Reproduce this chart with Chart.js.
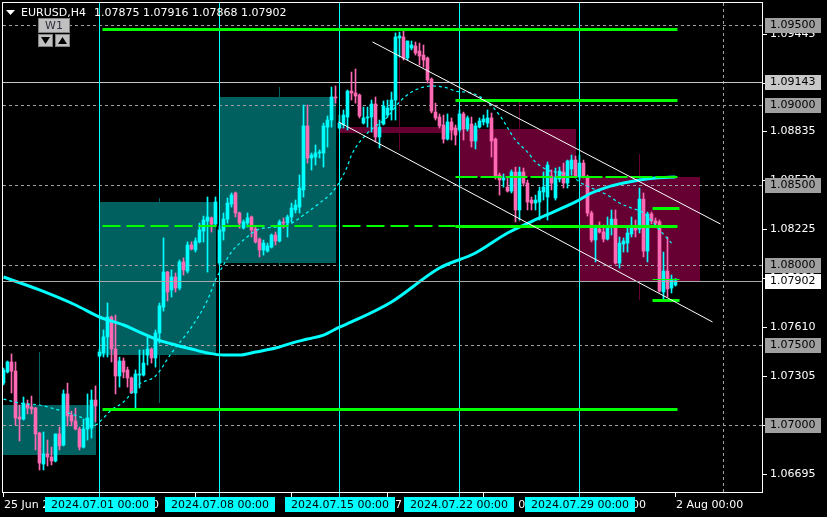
<!DOCTYPE html>
<html><head><meta charset="utf-8">
<script src="https://cdn.jsdelivr.net/npm/chart.js@4.4.1/dist/chart.umd.min.js"></script>
<style>html,body{margin:0;padding:0;background:#000;overflow:hidden}canvas{display:block}</style>
</head><body>
<canvas id="c" width="827" height="517"></canvas>
<script>
// ---- candle data (EURUSD H4), bar index 0 = 25 Jun 00:00 ----
const opens = [1.07262,1.07331,1.07394,1.07337,1.07050,1.07037,1.07131,1.07112,1.07106,1.06950,1.06756,1.06819,1.06800,1.06775,1.06944,1.06875,1.07194,1.07062,1.07025,1.06975,1.06862,1.06975,1.06981,1.07156,
1.07431,1.07450,1.07550,1.07675,1.07475,1.07306,1.07400,1.07344,1.07294,1.07200,1.07312,1.07312,1.07437,1.07475,1.07419,1.07575,1.07737,1.07956,1.07844,1.07925,1.07856,1.08019,1.07962,1.08125,1.08094,1.08144,1.08212,1.08275,1.08294,1.08256,
1.08012,1.08212,1.08287,1.08381,1.08450,1.08325,1.08231,1.08262,1.08300,1.08225,1.08162,1.08094,1.08087,1.08112,1.08187,1.08150,1.08269,1.08262,1.08300,1.08344,1.08362,1.08469,1.08869,1.08669,1.08675,1.08700,1.08700,1.08862,1.08906,1.09050,
1.08856,1.08875,1.08925,1.09087,1.09075,1.09062,1.08887,1.08919,1.08925,1.09006,1.08800,1.08881,1.08937,1.08969,1.09031,1.09419,1.09425,1.09294,1.09356,1.09369,1.09337,1.09312,1.09294,1.09162,1.08956,1.08925,1.08875,1.08787,1.08894,1.08856,
1.08844,1.08944,1.08850,1.08881,1.08775,1.08862,1.08894,1.08887,1.08919,1.08787,1.08562,1.08531,1.08487,1.08462,1.08581,1.08344,1.08581,1.08512,1.08406,1.08387,1.08394,1.08456,1.08425,1.08556,1.08419,1.08537,1.08581,1.08512,1.08600,1.08656,
1.08550,1.08637,1.08550,1.08325,1.08156,1.08225,1.08206,1.08162,1.08244,1.08287,1.08012,1.08131,1.08137,1.08194,1.08244,1.08225,1.08412,1.08087,1.08319,1.08275,1.08269,1.07831,1.07962,1.07856,1.07875];
const highs = [1.07356,1.07400,1.07444,1.07394,1.07125,1.07175,1.07156,1.07181,1.07110,1.06955,1.06956,1.06906,1.06862,1.06944,1.06987,1.07219,1.07262,1.07087,1.07106,1.06987,1.07037,1.07194,1.07219,1.07244,
1.07475,1.07594,1.07762,1.07681,1.07687,1.07425,1.07419,1.07362,1.07300,1.07344,1.07469,1.07469,1.07550,1.07481,1.07594,1.07762,1.08169,1.07960,1.07969,1.07950,1.08031,1.08044,1.08144,1.08144,1.08169,1.08262,1.08306,1.08425,1.08300,1.08425,
1.08244,1.08325,1.08419,1.08450,1.08456,1.08331,1.08281,1.08325,1.08306,1.08237,1.08169,1.08156,1.08137,1.08194,1.08206,1.08281,1.08294,1.08312,1.08387,1.08406,1.08562,1.09000,1.09000,1.08700,1.08750,1.08719,1.08887,1.08931,1.09112,1.09119,
1.08937,1.08969,1.09094,1.09206,1.09225,1.09069,1.08987,1.08987,1.09031,1.09050,1.08906,1.09025,1.09031,1.09081,1.09450,1.09456,1.09469,1.09400,1.09400,1.09394,1.09387,1.09375,1.09300,1.09169,1.09012,1.08944,1.08937,1.08944,1.08919,1.08875,
1.08969,1.08956,1.08931,1.08925,1.08887,1.08919,1.08937,1.08969,1.08950,1.08794,1.08575,1.08569,1.08544,1.08594,1.08612,1.08612,1.08606,1.08531,1.08425,1.08437,1.08487,1.08581,1.08644,1.08594,1.08606,1.08612,1.08637,1.08656,1.08687,1.08681,
1.08687,1.08656,1.08562,1.08337,1.08250,1.08269,1.08250,1.08300,1.08344,1.08344,1.08175,1.08169,1.08231,1.08300,1.08281,1.08481,1.08450,1.08331,1.08331,1.08294,1.08281,1.08081,1.08175,1.07937,1.07916];
const lows = [1.07250,1.07325,1.07200,1.07000,1.06900,1.07031,1.07069,1.07069,1.06844,1.06719,1.06719,1.06744,1.06750,1.06769,1.06844,1.06869,1.06994,1.06994,1.06969,1.06844,1.06856,1.06906,1.06919,1.07019,
1.07425,1.07425,1.07425,1.07394,1.07194,1.07237,1.07294,1.07237,1.07200,1.07106,1.07231,1.07306,1.07375,1.07387,1.07362,1.07512,1.07712,1.07775,1.07800,1.07831,1.07844,1.07937,1.07950,1.08094,1.08081,1.08137,1.08144,1.07956,1.08206,1.08244,
1.08000,1.08156,1.08262,1.08362,1.08300,1.08231,1.08225,1.08237,1.08175,1.08137,1.08050,1.08062,1.08081,1.08106,1.08125,1.08144,1.08231,1.08175,1.08269,1.08325,1.08325,1.08425,1.08637,1.08594,1.08625,1.08669,1.08612,1.08737,1.08862,1.09012,
1.08850,1.08856,1.08844,1.09031,1.09012,1.08919,1.08881,1.08862,1.08831,1.08769,1.08731,1.08875,1.08925,1.08906,1.08906,1.09300,1.09281,1.09281,1.09344,1.09312,1.09250,1.09237,1.09137,1.08950,1.08906,1.08856,1.08762,1.08781,1.08781,1.08750,
1.08831,1.08781,1.08837,1.08737,1.08725,1.08856,1.08875,1.08862,1.08675,1.08537,1.08437,1.08487,1.08456,1.08450,1.08269,1.08281,1.08494,1.08344,1.08344,1.08344,1.08281,1.08406,1.08281,1.08469,1.08406,1.08519,1.08481,1.08481,1.08562,1.08544,
1.08531,1.08544,1.08306,1.08144,1.08019,1.08200,1.08144,1.08156,1.08187,1.08006,1.07981,1.08081,1.08081,1.08175,1.08175,1.08200,1.08050,1.08019,1.08256,1.08244,1.07831,1.07787,1.07800,1.07825,1.07868];
const closes = [1.07344,1.07394,1.07337,1.07044,1.07037,1.07137,1.07106,1.07100,1.06944,1.06762,1.06819,1.06800,1.06775,1.06944,1.06869,1.07194,1.07056,1.07025,1.06975,1.06862,1.06975,1.07044,1.07156,1.07119,
1.07456,1.07550,1.07675,1.07475,1.07306,1.07400,1.07331,1.07294,1.07200,1.07319,1.07319,1.07387,1.07475,1.07419,1.07575,1.07744,1.07956,1.07831,1.07925,1.07856,1.08019,1.07969,1.08125,1.08100,1.08150,1.08219,1.08281,1.08300,1.08256,1.08394,
1.08219,1.08287,1.08387,1.08437,1.08325,1.08262,1.08269,1.08294,1.08219,1.08144,1.08094,1.08137,1.08119,1.08187,1.08150,1.08269,1.08262,1.08300,1.08356,1.08375,1.08481,1.08869,1.08669,1.08687,1.08700,1.08706,1.08869,1.08906,1.09050,1.09044,
1.08887,1.08937,1.09087,1.09075,1.09056,1.08931,1.08919,1.08925,1.09006,1.08800,1.08862,1.08994,1.08981,1.09031,1.09425,1.09431,1.09294,1.09400,1.09375,1.09325,1.09306,1.09281,1.09156,1.08962,1.08919,1.08869,1.08787,1.08894,1.08844,1.08812,
1.08944,1.08850,1.08919,1.08775,1.08869,1.08900,1.08912,1.08919,1.08775,1.08550,1.08531,1.08544,1.08462,1.08581,1.08344,1.08581,1.08512,1.08394,1.08387,1.08406,1.08462,1.08487,1.08625,1.08512,1.08550,1.08587,1.08512,1.08650,1.08656,1.08550,
1.08637,1.08550,1.08325,1.08156,1.08231,1.08206,1.08162,1.08244,1.08287,1.08012,1.08137,1.08150,1.08200,1.08244,1.08219,1.08412,1.08087,1.08319,1.08275,1.08262,1.07837,1.07962,1.07850,1.07912,1.07902];

// ---- moving averages ----
const maSlowIdx = [0,9,18,24,30,34,38,43,47,51,55,59,63,68,72,76,80,84,87,97,109,118,126,134,143,147,151,155,159,163,168];
const maSlowVal = [1.07925,1.07844,1.07750,1.07675,1.07625,1.07581,1.07537,1.07500,1.07475,1.07450,1.07437,1.07437,1.07456,1.07481,1.07512,1.07537,1.07562,1.07612,1.07644,1.07769,1.07981,1.08075,1.08200,1.08294,1.08394,1.08450,1.08487,1.08512,1.08531,1.08544,1.08550];
const maFastIdx = [0,4,9,12,17,21,23,24,27,30,34,38,42,47,51,53,55,57,60,64,68,72,75,79,82,84,86,87,91,96,99,102,105,107,111,113,117,121,124,128,131,133,136,138,142,144,147,151,154,157,160,164,167];
const maFastVal = [1.07162,1.07137,1.07125,1.07106,1.07069,1.07031,1.07000,1.07019,1.07094,1.07144,1.07256,1.07306,1.07450,1.07612,1.07781,1.07906,1.08000,1.08081,1.08156,1.08225,1.08237,1.08262,1.08312,1.08387,1.08450,1.08519,1.08619,1.08687,1.08825,1.08925,1.09019,1.09081,1.09112,1.09119,1.09106,1.09087,1.09075,1.09019,1.08937,1.08781,1.08706,1.08644,1.08594,1.08581,1.08556,1.08519,1.08481,1.08437,1.08387,1.08356,1.08325,1.08219,1.08137];

// ---- weekly candles (W1 overlay) ----
const weekFirst = [-6,24,54,84,114,144];
const weekLast  = [23,53,83,113,143,174];
const weekMid   = [9,39,69,99,129,159];
const weekOpen  = [1.06812,1.07437,1.08012,1.08862,1.08850,1.08550];
const weekClose = [1.07125,1.08394,1.09050,1.08825,1.08550,1.07900];
const weekHigh  = [1.07456,1.08419,1.09112,1.09450,1.09025,1.08694];
const weekLow   = [1.06731,1.07137,1.08000,1.08719,1.08269,1.07781];

// ---- drawn objects ----
const levelPrices = [1.09500,1.09000,1.08500,1.08000,1.07500,1.07000];
const levelLabels = ["1.09500","1.09000","1.08500","1.08000","1.07500","1.07000"];
const markPrice = 1.09143, markLabel = "1.09143";
const bidPrice = 1.07902, bidLabel = "1.07902";
const greenPrices = [1.09478,1.09031,1.08550,1.08244,1.08244,1.07100,1.08356,1.07781,1.07912];
const greenFrom   = [24.75,113,113,24.75,113,24.75,162.25,162.25,162.25];
const greenTo     = [168.5,168.5,168.5,113,168.5,168.5,169,169,169];
const channelFrom = [[92.25,1.09394],[83.75,1.08894]];
const channelTo   = [[179.25,1.08256],[177.25,1.07644]];
const vDashIdx = 180;

// ---- axis texts ----
const yTickValues = [1.09445,1.09140,1.08835,1.08530,1.08225,1.07920,1.07610,1.07305,1.07000,1.06695];
const yTickLabels = ["1.09445","1.09140","1.08835","1.08530","1.08225","1.07920","1.07610","1.07305","1.07000","1.06695"];
const xTickIdx = [0,24,48,72,96,120,144,168];
const xTickLabels = ["25 Jun 2024","1 Jul 00:00","5 Jul 00:00","11 Jul 00:00","17 Jul 00:00","23 Jul 00:00","29 Jul 00:00","2 Aug 00:00"];
const weekLabels = ["2024.07.01 00:00","2024.07.08 00:00","2024.07.15 00:00","2024.07.22 00:00","2024.07.29 00:00"];
const symbolText = "EURUSD,H4";
const ohlcText = "1.07875 1.07916 1.07868 1.07902";

const BULL = '#00ffff', BEAR = '#ff69b4', TEAL = '#006060', MAROON = '#660033', GREEN = '#00ff00';
const FONT = '11px "DejaVu Sans"';
const idx = opens.map((_, i) => i);
const candleColor = idx.map(i => closes[i] >= opens[i] ? BULL : BEAR);

const overlay = {
  id: 'mt4',
  beforeDraw(chart) {
    const c = chart.ctx; c.save(); c.fillStyle = '#000'; c.fillRect(0, 0, chart.width, chart.height); c.restore();
  },
  beforeDatasetsDraw(chart) {
    const c = chart.ctx, a = chart.chartArea;
    const X = v => chart.scales.x.getPixelForValue(v), Y = v => chart.scales.y.getPixelForValue(v);
    c.save(); c.beginPath(); c.rect(a.left, a.top, a.right - a.left, a.bottom - a.top); c.clip();
    weekFirst.forEach((f, k) => {
      const col = weekClose[k] >= weekOpen[k] ? TEAL : MAROON;
      c.fillStyle = col;
      const y0 = Math.round(Y(Math.max(weekOpen[k], weekClose[k]))), y1 = Math.round(Y(Math.min(weekOpen[k], weekClose[k])));
      c.fillRect(X(f) - 0.5, y0, X(weekLast[k]) - X(f) + 1, Math.max(1, y1 - y0));
      c.fillRect(X(weekMid[k]) - 0.5, Math.round(Y(weekHigh[k])), 1, Math.round(Y(weekLow[k]) - Y(weekHigh[k])));
    });
    c.lineWidth = 1; c.strokeStyle = '#a0a0a0'; c.setLineDash([3, 3]);
    levelPrices.forEach(p => { const y = Math.round(Y(p)) + 0.5; c.beginPath(); c.moveTo(a.left, y); c.lineTo(a.right, y); c.stroke(); });
    const vx = X(vDashIdx); c.beginPath(); c.moveTo(vx, a.top); c.lineTo(vx, a.bottom); c.stroke();
    c.setLineDash([]);
    c.strokeStyle = '#c8c8c8';
    { const y = Math.round(Y(markPrice)) + 0.5; c.beginPath(); c.moveTo(a.left, y); c.lineTo(a.right, y); c.stroke(); }
    c.strokeStyle = BULL;
    weekFirst.slice(1).forEach(f => { const x = X(f); c.beginPath(); c.moveTo(x, a.top); c.lineTo(x, a.bottom); c.stroke(); });
    c.restore();
  },
  afterDatasetsDraw(chart) {
    const c = chart.ctx, a = chart.chartArea;
    const X = v => chart.scales.x.getPixelForValue(v), Y = v => chart.scales.y.getPixelForValue(v);
    c.save(); c.beginPath(); c.rect(a.left, a.top, a.right - a.left, a.bottom - a.top); c.clip();
    const gw = [3, 3, 2, 2, 3, 3, 3, 3, 1], gd = [[], [], [22, 3], [18, 6], [], [], [], [], []];
    greenPrices.forEach((p, k) => {
      c.strokeStyle = GREEN; c.lineWidth = gw[k]; c.setLineDash(gd[k]);
      const y = Math.round(Y(p)) + (gw[k] % 2 ? 0.5 : 0);
      c.beginPath(); c.moveTo(X(greenFrom[k]), y); c.lineTo(X(greenTo[k]), y); c.stroke();
    });
    c.setLineDash([]);
    c.strokeStyle = '#ffffff'; c.lineWidth = 1;
    channelFrom.forEach((s, k) => { c.beginPath(); c.moveTo(X(s[0]), Y(s[1])); c.lineTo(X(channelTo[k][0]), Y(channelTo[k][1])); c.stroke(); });
    c.strokeStyle = '#a9a9a9';
    { const y = Math.round(Y(bidPrice)) + 0.5; c.beginPath(); c.moveTo(a.left, y); c.lineTo(a.right, y); c.stroke(); }
    c.restore();
  },
  afterDraw(chart) {
    const c = chart.ctx, a = chart.chartArea;
    const X = v => chart.scales.x.getPixelForValue(v), Y = v => chart.scales.y.getPixelForValue(v);
    c.save();
    c.font = FONT; c.textBaseline = 'middle';
    c.strokeStyle = '#ffffff'; c.lineWidth = 1;
    c.strokeRect(a.left - 0.5, a.top - 0.5, a.right - a.left, a.bottom - a.top);
    c.fillStyle = '#ffffff';
    yTickValues.forEach((v, k) => {
      const y = Math.round(Y(v)) + 0.5;
      c.beginPath(); c.moveTo(a.right, y); c.lineTo(a.right + 4, y); c.stroke();
      c.fillText(yTickLabels[k], a.right + 7, y);
    });
    const box = (p, txt, bg) => {
      const y = Math.round(Y(p));
      c.fillStyle = bg; c.fillRect(a.right + 2, y - 7, 56, 15);
      c.fillStyle = '#000'; c.fillText(txt, a.right + 7, y + 0.5);
    };
    levelPrices.forEach((p, k) => box(p, levelLabels[k], '#a0a0a0'));
    box(markPrice, markLabel, '#c8c8c8');
    box(bidPrice, bidLabel, '#ffffff');
    c.strokeStyle = '#ffffff';
    xTickIdx.forEach((t, k) => {
      const x = X(t);
      c.beginPath(); c.moveTo(x, a.bottom); c.lineTo(x, a.bottom + 4); c.stroke();
      c.fillStyle = '#ffffff'; c.fillText(xTickLabels[k], Math.round(x), a.bottom + 12);
    });
    c.strokeStyle = BULL;
    weekFirst.slice(1).forEach((f, k) => {
      const x = X(f);
      c.beginPath(); c.moveTo(x, a.bottom); c.lineTo(x, a.bottom + 4); c.stroke();
      c.fillStyle = BULL; c.fillRect(Math.round(x) - 55, a.bottom + 4, 110, 15);
      c.fillStyle = '#000'; c.textAlign = 'center'; c.fillText(weekLabels[k], Math.round(x), a.bottom + 12); c.textAlign = 'left';
    });
    c.fillStyle = '#ffffff';
    c.beginPath(); c.moveTo(6, 10); c.lineTo(15, 10); c.lineTo(10.5, 15); c.closePath(); c.fill();
    c.fillText(symbolText, 21, 13);
    c.fillText(ohlcText, 94, 13);
    c.fillStyle = '#c0c0c0'; c.fillRect(38, 18, 32, 15); c.fillRect(38, 34, 15, 13); c.fillRect(55, 34, 15, 13);
    c.strokeStyle = '#808080'; c.strokeRect(38.5, 18.5, 31, 14); c.strokeRect(38.5, 34.5, 14, 12); c.strokeRect(55.5, 34.5, 14, 12);
    c.fillStyle = '#303040'; c.textAlign = 'center'; c.fillText('W1', 54, 26); c.textAlign = 'left';
    c.fillStyle = '#000';
    c.beginPath(); c.moveTo(41, 37); c.lineTo(50, 37); c.lineTo(45.5, 44); c.closePath(); c.fill();
    c.beginPath(); c.moveTo(58, 44); c.lineTo(67, 44); c.lineTo(62.5, 37); c.closePath(); c.fill();
    c.restore();
  }
};

new Chart(document.getElementById('c'), {
  type: 'bar',
  data: {
    datasets: [
      { type: 'line', data: maSlowIdx.map((x, k) => ({ x, y: maSlowVal[k] })), borderColor: BULL, borderWidth: 3, pointRadius: 0, cubicInterpolationMode: 'monotone', order: 1 },
      { type: 'line', data: maFastIdx.map((x, k) => ({ x, y: maFastVal[k] })), borderColor: BULL, borderWidth: 1.2, borderDash: [3, 3], pointRadius: 0, cubicInterpolationMode: 'monotone', order: 2 },
      { data: idx.map(i => ({ x: i, y: [Math.min(opens[i], closes[i]), Math.max(opens[i], closes[i])] })), backgroundColor: candleColor, barThickness: 3, minBarLength: 1, grouped: false, borderWidth: 0, order: 3 },
      { data: idx.map(i => ({ x: i, y: [lows[i], highs[i]] })), backgroundColor: candleColor, barThickness: 1, minBarLength: 1, grouped: false, borderWidth: 0, order: 4 }
    ]
  },
  options: {
    responsive: false, animation: false, events: [],
    layout: { padding: { left: 3, top: 3, right: 64, bottom: 24 } },
    plugins: { legend: { display: false }, tooltip: { enabled: false }, title: { display: false } },
    scales: {
      x: { type: 'linear', min: -0.125, max: 189.875, offset: false, display: false },
      y: { min: 1.06575, max: 1.096375, display: false }
    }
  },
  plugins: [overlay]
});
</script>
</body></html>
